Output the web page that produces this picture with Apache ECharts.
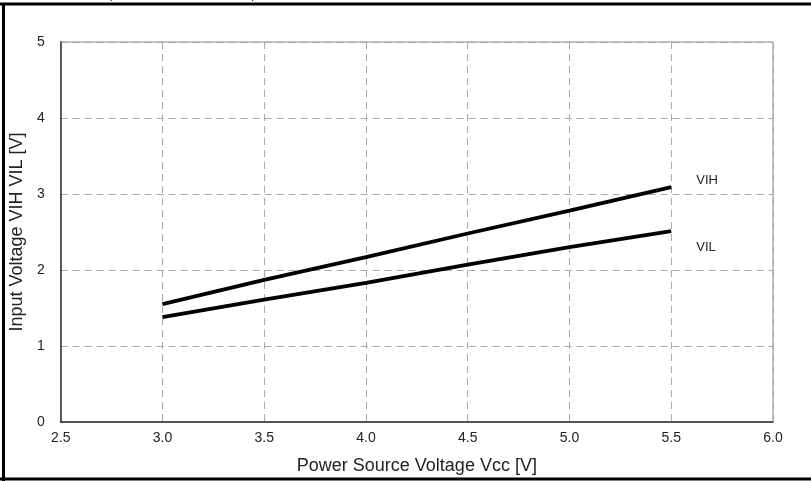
<!DOCTYPE html>
<html>
<head>
<meta charset="utf-8">
<script src="https://cdn.jsdelivr.net/npm/echarts@6/dist/echarts.min.js"></script>
<style>
  html, body { margin: 0; padding: 0; background: #fff; }
  #chart { width: 811px; height: 481px; }
</style>
</head>
<body>
<div id="chart"></div>
<script>
// Supply voltage (V) and measured input thresholds (V)
const vcc = [3.0, 3.5, 4.0, 4.5, 5.0, 5.5];
const vih = [1.55, 1.87, 2.17, 2.48, 2.78, 3.09];
const vil = [1.38, 1.61, 1.83, 2.07, 2.30, 2.51];
const seriesNames = ['VIH', 'VIL'];
const xTicks = [2.5, 3.0, 3.5, 4.0, 4.5, 5.0, 5.5, 6.0];
const yTicks = [0, 1, 2, 3, 4, 5];

const FONT = 'Liberation Sans, Arial, sans-serif';
const chart = echarts.init(document.getElementById('chart'), null, { renderer: 'canvas' });

function pairs(xs, ys) { return xs.map((x, i) => [x, ys[i]]); }

const lineSeries = (name, ys, labelDy) => ({
  name: name,
  type: 'line',
  data: pairs(vcc, ys),
  showSymbol: false,
  smooth: false,
  lineStyle: { color: '#000', width: 3.8 },
  endLabel: {
    show: true,
    formatter: name,
    color: '#222',
    fontFamily: FONT,
    fontSize: 13,
    offset: [17, labelDy]
  },
  z: 5
});

chart.setOption({
  animation: false,
  backgroundColor: '#fff',
  grid: { left: 60, right: 38, top: 42, bottom: 59, show: true, borderColor: '#888', borderWidth: 1 },
  xAxis: {
    type: 'value',
    min: 2.5, max: 6.0, interval: 0.5,
    name: 'Power Source Voltage Vcc [V]',
    nameLocation: 'middle',
    nameGap: 35,
    nameTextStyle: { fontFamily: FONT, fontSize: 18, color: '#222' },
    axisLine: { show: true, lineStyle: { color: '#333', width: 1.5 } },
    axisTick: { show: false },
    axisLabel: {
      fontFamily: FONT, fontSize: 14, color: '#222', margin: 9,
      formatter: v => xTicks.includes(+v.toFixed(1)) ? v.toFixed(1) : ''
    },
    splitLine: { show: true, lineStyle: { color: '#aaa', type: [7, 5], width: 1 } }
  },
  yAxis: {
    type: 'value',
    min: 0, max: 5, interval: 1,
    name: 'Input Voltage VIH VIL [V]',
    nameLocation: 'middle',
    nameGap: 34,
    nameTextStyle: { fontFamily: FONT, fontSize: 18, color: '#222' },
    axisLine: { show: true, lineStyle: { color: '#333', width: 1.5 } },
    axisTick: { show: false },
    axisLabel: {
      fontFamily: FONT, fontSize: 14, color: '#222', margin: 16,
      formatter: v => yTicks.includes(v) ? String(v) : ''
    },
    splitLine: { show: true, lineStyle: { color: '#aaa', type: [7, 5], width: 1 } }
  },
  series: [
    lineSeries(seriesNames[0], vih, -7),
    lineSeries(seriesNames[1], vil, 16)
  ],
  graphic: [
    // condition note, running off the top edge
    { type: 'text', left: 108, top: -12,
      style: { text: '(Ta=25°C, Vcc=3.0~5.5V)', font: '13px ' + FONT, fill: '#222' } },
    // outer frame
    { type: 'line', shape: { x1: 0, y1: 4, x2: 811, y2: 4 }, style: { stroke: '#000', lineWidth: 3 } },
    { type: 'line', shape: { x1: 3.5, y1: 3, x2: 3.5, y2: 481 }, style: { stroke: '#000', lineWidth: 3 } },
    { type: 'line', shape: { x1: 0, y1: 479, x2: 811, y2: 479 }, style: { stroke: '#000', lineWidth: 3 } }
  ]
});
</script>
</body>
</html>
